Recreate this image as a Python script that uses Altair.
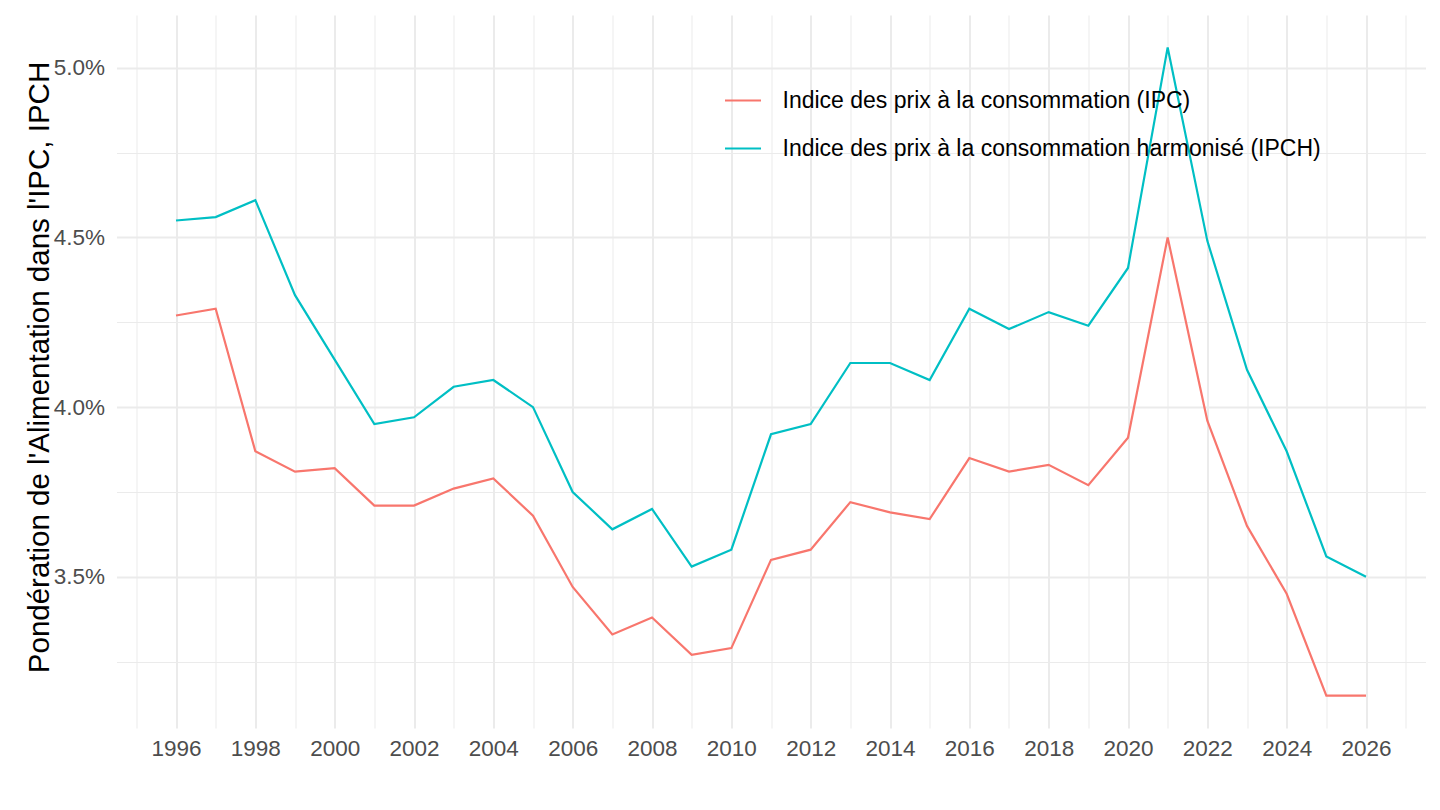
import altair as alt
import pandas as pd

years = list(range(1996, 2027))
ipc = [4.27, 4.29, 3.87, 3.81, 3.82, 3.71, 3.71, 3.76, 3.79, 3.68,
       3.47, 3.33, 3.38, 3.27, 3.29, 3.55, 3.58, 3.72, 3.69, 3.67,
       3.85, 3.81, 3.83, 3.77, 3.91, 4.50, 3.96, 3.65, 3.45, 3.15, 3.15]
ipch = [4.55, 4.56, 4.61, 4.33, 4.14, 3.95, 3.97, 4.06, 4.08, 4.00,
        3.75, 3.64, 3.70, 3.53, 3.58, 3.92, 3.95, 4.13, 4.13, 4.08,
        4.29, 4.23, 4.28, 4.24, 4.41, 5.06, 4.49, 4.11, 3.87, 3.56, 3.50]
series_names = ["Indice des prix à la consommation (IPC)",
                "Indice des prix à la consommation harmonisé (IPCH)"]
colors = ["#F8766D", "#00BFC4"]

x_ticks = list(range(1995, 2028))
y_ticks = [3.25, 3.5, 3.75, 4.0, 4.25, 4.5, 4.75, 5.0]

rows = []
for name, vals in zip(series_names, [ipc, ipch]):
    for y, v in zip(years, vals):
        rows.append({"date": y, "value": v, "serie": name})
df = pd.DataFrame(rows)

allv = ipc + ipch
lo, hi = min(allv), max(allv)
pad = (hi - lo) * 0.05
xpad = (years[-1] - years[0]) * 0.05

font = "Liberation Sans"
major_y = "abs(datum.value*2 - round(datum.value*2)) < 0.001"

chart = alt.Chart(df).mark_line(strokeWidth=2.2, clip=True).encode(
    x=alt.X("date:Q", title=None,
            scale=alt.Scale(domain=[years[0] - xpad, years[-1] + xpad], nice=False, zero=False),
            axis=alt.Axis(values=x_ticks, format="d",
                          labelExpr="datum.value % 2 == 0 ? datum.label : ''",
                          gridWidth={"condition": {"test": "datum.value % 2 == 0", "value": 2}, "value": 1},
                          gridColor="#EBEBEB", domain=False, ticks=False,
                          labelFontSize=22.5, labelColor="#4D4D4D", labelFont=font,
                          labelPadding=9)),
    y=alt.Y("value:Q", title="Pondération de l'Alimentation dans l'IPC, IPCH",
            scale=alt.Scale(domain=[lo - pad, hi + pad], nice=False, zero=False),
            axis=alt.Axis(values=y_ticks,
                          labelExpr=major_y + " ? format(datum.value, '.1f') + '%' : ''",
                          gridWidth={"condition": {"test": major_y, "value": 2}, "value": 1},
                          gridColor="#EBEBEB", domain=False, ticks=False,
                          labelFontSize=22.5, labelColor="#4D4D4D", labelFont=font,
                          labelPadding=12, titleFontSize=29.5, titleFont=font,
                          titleFontWeight="normal", titleColor="#000000", titlePadding=-1,
                          titleY=352)),
    color=alt.Color("serie:N", title=None,
                    scale=alt.Scale(domain=series_names, range=colors),
                    legend=alt.Legend(orient="none", legendX=607, legendY=66,
                                      symbolType="stroke", symbolSize=1296,
                                      symbolStrokeWidth=2.2, labelFontSize=23,
                                      labelFont=font, labelColor="#000000",
                                      labelOffset=20, rowPadding=16,
                                      labelLimit=0)),
).properties(
    width=1309, height=713,
    autosize=alt.AutoSizeParams(type="none"),
    padding={"left": 108.5, "top": 7, "right": 0, "bottom": 70},
).configure(background="white").configure_view(stroke=None)

chart.save("out.html", embed_options={"renderer": "svg", "actions": False})
